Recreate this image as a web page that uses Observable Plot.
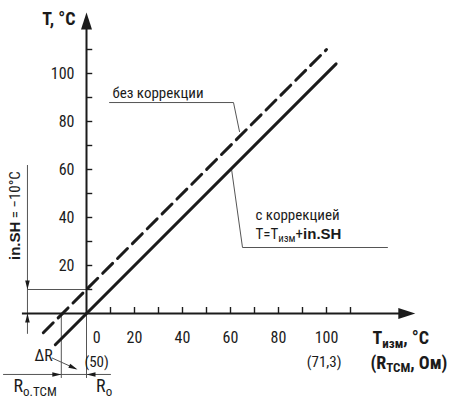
<!DOCTYPE html>
<html>
<head>
<meta charset="utf-8">
<script src="https://cdn.jsdelivr.net/npm/d3@7"></script>
<script src="https://cdn.jsdelivr.net/npm/@observablehq/plot@0.6"></script>
<style>
  html, body { margin: 0; padding: 0; background: #fff; }
  #chart svg { display: block; }
</style>
</head>
<body>
<div id="chart"></div>
<script>
// ---- data (all in chart units: x = Tизм, °C ; y = T, °C) ----
const xTicks = [10, 20, 30, 40, 50, 60, 70, 80, 90, 100, 110];
const yTicks = [10, 20, 30, 40, 50, 60, 70, 80, 90, 100, 110];
const xTickLabels = ["0", "20", "40", "60", "80", "100"];
const xTickValues = [0, 20, 40, 60, 80, 100];
const yTickLabels = ["20", "40", "60", "80", "100"];
const yTickValues = [20, 40, 60, 80, 100];
const resistanceLabels = ["(50)", "(71,3)"];
const resistanceAt = [0, 100];

// corrected line T = Tизм, uncorrected line T = Tизм + 10
const correctedX = [-13, 104];
const correctedY = [-13, 104];
const uncorrectedX = [-18, 100];
const uncorrectedY = [-8, 110];
const shift = -10;

const seriesLabels = ["без коррекции", "с коррекцией", "T=T_{изм}+*in.SH*"];
const axisTitles = ["T, °C", "T_{изм}, °C", "(R_{TCM}, Ом)"];
const dimLabels = ["ΔR", "R_{о.TCM}", "R_{о}", "*in.SH* = −10°C"];

// ---- build tables ----
const solid = correctedX.map((x, i) => ({x, y: correctedY[i]}));
const dashed = uncorrectedX.map((x, i) => ({x, y: uncorrectedY[i]}));

// thin construction lines (chart units)
const guides = [
  [[-24.6, 10], [0, 10]],
  [[-24.6, 61.7], [-24.6, -8.3]],
  [[-10.5, 0], [-10.5, -26.7]],
  [[0, 0], [0, -26.7]],
  [[-34.6, -25.4], [10, -25.4]],
  [[-14.2, -18.6], [-4.5, -23.0]],
  [[9.6, 87.9], [61.25, 87.9], [63.75, 75.8]],
  [[60.4, 60.4], [65, 27.5], [125.4, 27.5]]
].flatMap((pts, id) => pts.map(([x, y]) => ({id, x, y})));

// arrowheads: tip position, direction (degrees clockwise from "up")
const bigHeads = [
  {x: 0, y: 125.4, dir: 0},
  {x: 137, y: 0, dir: 90}
];
const smallHeads = [
  {x: -24.6, y: -shift, dir: 180},
  {x: -24.6, y: 0, dir: 0},
  {x: -10.5, y: -25.4, dir: 90},
  {x: 0, y: -25.4, dir: -90},
  {x: -3.75, y: -23.3, dir: 114}
];

// filled triangular arrowhead symbol, tip at the origin, pointing up
const headSymbol = (len, half) => ({
  draw(ctx) {
    ctx.moveTo(0, 0);
    ctx.lineTo(half, len);
    ctx.lineTo(-half, len);
    ctx.closePath();
  }
});

const font = "'Liberation Sans Narrow', 'Roboto Condensed', 'DejaVu Sans Condensed', 'Liberation Sans', sans-serif";
const ink = "#1b1b1b";
const grey = "#555";

const plot = Plot.plot({
  width: 463,
  height: 398,
  margin: 0,
  x: {domain: [-86 / 2.4, (463 - 86) / 2.4], axis: null},
  y: {domain: [(313 - 398) / 2.4, 313 / 2.4], axis: null},
  style: {fontFamily: font, background: "#fff", color: ink},
  marks: [
    // construction lines
    Plot.line(guides, {x: "x", y: "y", z: "id", stroke: grey, strokeWidth: 1}),
    // axes
    Plot.ruleY([0], {x1: -26.7, x2: 131, stroke: ink, strokeWidth: 2}),
    Plot.ruleX([0], {y1: 0, y2: 120, stroke: ink, strokeWidth: 2}),
    Plot.ruleX(xTicks, {x: d => d, y1: 0, y2: 2.5, stroke: ink, strokeWidth: 1.4}),
    Plot.ruleY(yTicks, {y: d => d, x1: 0, x2: 2.6, stroke: ink, strokeWidth: 1.4}),
    Plot.dot(bigHeads, {x: "x", y: "y", rotate: "dir", symbol: headSymbol(17, 5.5), fill: ink, stroke: "none"}),
    Plot.dot(smallHeads, {x: "x", y: "y", rotate: "dir", symbol: headSymbol(9, 2.3), fill: ink, stroke: "none"}),
    // series
    Plot.line(dashed, {x: "x", y: "y", stroke: ink, strokeWidth: 3, strokeDasharray: "14,7"}),
    Plot.line(solid, {x: "x", y: "y", stroke: ink, strokeWidth: 3}),
    // tick labels
    Plot.text(yTickValues, {x: -5, y: d => d, text: (d, i) => yTickLabels[i], textAnchor: "end", fontSize: 16, fill: ink}),
    Plot.text(xTickValues, {x: d => d === 0 ? 4.2 : d, y: -10, text: (d, i) => xTickLabels[i], fontSize: 16, fill: ink}),
    Plot.text(resistanceAt, {x: d => d === 0 ? 4.2 : d - 1, y: -20.4, text: (d, i) => resistanceLabels[i], fontSize: 15, fill: ink}),
    // axis titles
    Plot.text([axisTitles[0]], {x: -4.6, y: 122.6, text: d => d, textAnchor: "end", fontSize: 18, fontWeight: "bold", fill: ink}),
    Plot.text([axisTitles[1]], {x: 119.2, y: -10.4, text: d => d, textAnchor: "start", fontSize: 18, fontWeight: "bold", fill: ink}),
    Plot.text([axisTitles[2]], {x: 118.3, y: -20.6, text: d => d, textAnchor: "start", fontSize: 18, fontWeight: "bold", fill: ink}),
    // series labels
    Plot.text([seriesLabels[0]], {x: 10.8, y: 91.7, text: d => d, textAnchor: "start", fontSize: 15, fill: ink}),
    Plot.text([seriesLabels[1]], {x: 70.4, y: 40.8, text: d => d, textAnchor: "start", fontSize: 15, fill: ink}),
    Plot.text([seriesLabels[2]], {x: 70.4, y: 33.2, text: d => d, textAnchor: "start", fontSize: 15, fill: ink}),
    // dimension labels
    Plot.text([dimLabels[0]], {x: -17.9, y: -17.6, text: d => d, fontSize: 16, fill: ink}),
    Plot.text([dimLabels[1]], {x: -30.4, y: -30.3, text: d => d, textAnchor: "start", fontSize: 18, fill: ink}),
    Plot.text([dimLabels[2]], {x: 4.0, y: -30.3, text: d => d, textAnchor: "start", fontSize: 18, fill: ink}),
    Plot.text([dimLabels[3]], {x: -29.6, y: 40.8, text: d => d, rotate: -90, fontSize: 15, fill: ink})
  ]
});

// turn simple markup (_{sub}, *bold*) into tspans, keeping real text
d3.select(plot).selectAll("text").each(function () {
  const t = this.textContent;
  if (!/_\{|\*/.test(t)) return;
  const parts = t.split(/(_\{[^}]*\}|\*[^*]*\*)/).filter(s => s.length);
  this.textContent = "";
  const sel = d3.select(this);
  let lowered = false;
  for (const p of parts) {
    const ts = sel.append("tspan");
    if (p.startsWith("_{")) {
      ts.text(p.slice(2, -1)).attr("font-size", "0.72em").attr("dy", "0.28em");
      lowered = true;
    } else {
      if (p.startsWith("*")) ts.text(p.slice(1, -1)).attr("font-weight", "bold").attr("font-family", "'Liberation Sans', Arial, sans-serif");
      else ts.text(p);
      if (lowered) { ts.attr("dy", "-0.2em"); lowered = false; }
    }
  }
});

document.getElementById("chart").append(plot);
</script>
</body>
</html>
